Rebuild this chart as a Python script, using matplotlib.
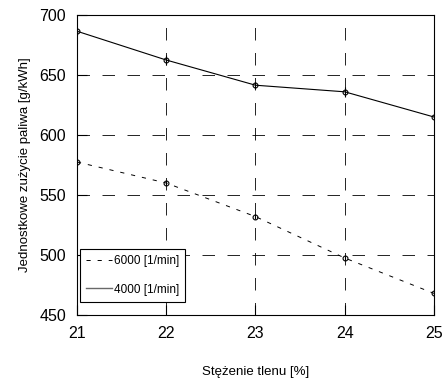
import matplotlib.pyplot as plt
from matplotlib.lines import Line2D

plt.rcParams['font.family'] = ['Liberation Sans', 'DejaVu Sans']
plt.rcParams['lines.scale_dashes'] = False

# stezenie tlenu [%]
tlen = [21, 22, 23, 24, 25]
# jednostkowe zuzycie paliwa [g/kWh]
paliwo_6000 = [577.5, 560, 532, 497.5, 468]
paliwo_4000 = [686.5, 662.5, 641.5, 636, 615]
err_6000 = [2, 2, 2, 2, 2]
err_4000 = [3, 4, 3, 4, 2]

fig = plt.figure(figsize=(4.44, 3.89), dpi=100)
ax = fig.add_axes([0.1734, 0.1902, 0.8041, 0.7712])

ax.errorbar(tlen, paliwo_6000, yerr=err_6000, color='black', lw=0.7,
            ls=(0, (3, 5)), marker='o', ms=3.5, mfc='none', mew=0.8,
            elinewidth=0.8, capsize=0)
ax.errorbar(tlen, paliwo_4000, yerr=err_4000, color='black', lw=0.8,
            ls='-', marker='o', ms=3.5, mfc='none', mew=0.8,
            elinewidth=0.8, capsize=0)

ax.set_xlim(21, 25)
ax.set_ylim(450, 700)
ax.set_xticks(tlen)
ax.set_yticks([450, 500, 550, 600, 650, 700])
ax.grid(True, color='black', lw=0.6, ls=(0, (9, 9)))
ax.tick_params(direction='in', length=7, width=0.8, labelsize=11.5, pad=8)
for s in ax.spines.values():
    s.set_linewidth(0.8)

ax.set_xlabel('Stężenie tlenu [%]', fontsize=9.5, labelpad=18)
ax.set_ylabel('Jednostkowe zużycie paliwa [g/kWh]', fontsize=9.5, labelpad=6)

handles = [Line2D([], [], color='black', lw=0.7, ls=(0, (3, 5))),
           Line2D([], [], color='dimgray', lw=1.0, ls='-')]
leg = ax.legend(handles, ['6000 [1/min]', '4000 [1/min]'], loc='lower left',
                bbox_to_anchor=(0.008, 0.045), borderaxespad=0,
                fontsize=8.5, frameon=True, fancybox=False, edgecolor='black',
                framealpha=1, handlelength=2.2, labelspacing=1.4,
                handletextpad=0.2, borderpad=0.5)
leg.get_frame().set_linewidth(0.8)

fig.savefig('out.png', dpi=100)
